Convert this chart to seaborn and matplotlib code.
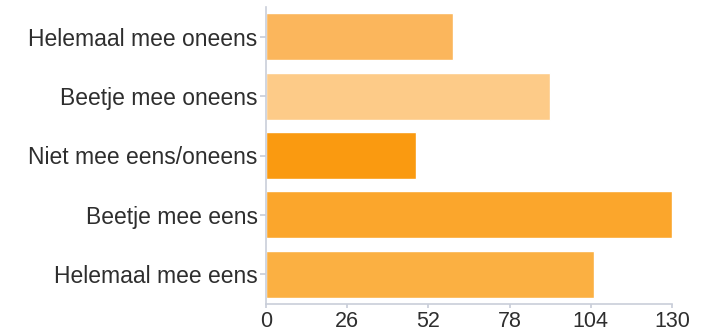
import matplotlib
matplotlib.use("Agg")
import matplotlib.pyplot as plt
import pandas as pd
import seaborn as sns

categories = [
    "Helemaal mee oneens",
    "Beetje mee oneens",
    "Niet mee eens/oneens",
    "Beetje mee eens",
    "Helemaal mee eens",
]
counts = [60, 91, 48, 130, 105]
bar_colors = ["#FBB65C", "#FDCB88", "#FA9A10", "#FBA62C", "#FBB042"]
x_ticks = [0, 26, 52, 78, 104, 130]

AXIS = "#C9CED9"
INK = "#2E2E2E"

sns.set_theme(style="white")
plt.rcParams["font.family"] = ["Liberation Sans", "DejaVu Sans"]

df = pd.DataFrame({"label": categories, "count": counts})

fig = plt.figure(figsize=(7.06, 3.36), dpi=100)
ax = fig.add_axes([266 / 706, 1 - 304 / 336, 406 / 706, 297 / 336])

sns.barplot(
    data=df, x="count", y="label", hue="label",
    palette=dict(zip(categories, bar_colors)),
    legend=False, width=0.79, saturation=1, ax=ax,
)

ax.set_xlim(0, 130)
ax.set_ylim(4.5, -0.5)
ax.set_xticks(x_ticks)
ax.set_xlabel("")
ax.set_ylabel("")

for side in ["top", "right"]:
    ax.spines[side].set_visible(False)
for side in ["left", "bottom"]:
    ax.spines[side].set_color(AXIS)
    ax.spines[side].set_linewidth(1.2)

ax.tick_params(axis="y", length=4, color=AXIS, labelsize=16.5, labelcolor=INK, pad=2, left=True)
ax.tick_params(axis="x", length=3, color=AXIS, labelsize=15.5, labelcolor=INK, pad=2, bottom=True)

fig.savefig("out.png", dpi=100, facecolor="white")
